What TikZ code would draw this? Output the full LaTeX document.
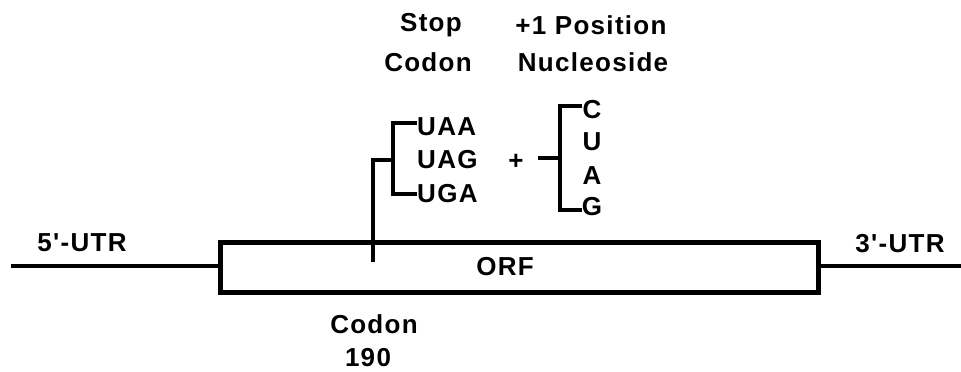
\documentclass[tikz,border=0pt]{standalone}
\usepackage{fontspec}
\setmainfont{Liberation Sans}[Ligatures=TeXOff, LetterSpace=5]
\begin{document}
\begin{tikzpicture}[x=1pt,y=-1pt,
  lab/.style={inner sep=0pt, font=\fontsize{26}{30}\selectfont\bfseries},
  seq/.style={lab, anchor=west},
  nuc/.style={lab},
  wire/.style={line width=4pt, line cap=butt},
  thick box/.style={draw, line width=5pt, inner sep=0pt, minimum width=598pt, minimum height=50pt}]
\useasboundingbox (0,0) rectangle (961,372);
% ORF box
\node[thick box] (orf) at (519,267) {};
\node[lab] (orflab) at (505,267) {ORF};
% UTR lines
\coordinate (l5) at (11,266);
\coordinate (r3) at (961,266);
\draw[wire] (l5) -- (l5 -| orf.west);
\draw[wire] (orf.east |- r3) -- (r3);
\node[lab] (utr5) at (82,243) {5'-UTR};
\node[lab] (utr3) at (900,244) {3'-UTR};
% codon 190 label
\node[lab] (codb) at (374,324) {Codon};
\node[lab] (n190) at (368,358) {190};
% header labels
\node[lab] (stop) at (431,25) {Stop};
\node[lab] (stopc) at (428,62) {Codon};
\node[lab] (pos) at (591,25) {+1 Position};
\node[lab] (nucl) at (593,62) {Nucleoside};
% stop codons
\node[seq] (uaa) at (417,127) {UAA};
\node[seq] (uag) at (417,160) {UAG};
\node[seq] (uga) at (417,194) {UGA};
\node[lab] (plus) at (516,162) {+};
% nucleosides
\node[nuc] (c) at (592,110) {C};
\node[nuc] (u) at (592,142) {U};
\node[nuc] (a) at (592,176) {A};
\node[nuc] (g) at (592,207) {G};
% codon bracket and stem
\coordinate (tick) at (373,262);
\coordinate (stem) at (373,160);
\coordinate (bt) at (393,123);
\coordinate (bb) at (393,194);
\coordinate (bm) at (393,160);
\draw[wire] (tick) -- (stem) -- (bm);
\draw[wire] (uaa.west |- bt) -- (bt) -- (bb) -- (uga.west |- bb);
% nucleoside bracket
\coordinate (nt) at (560,106);
\coordinate (nb) at (560,210);
\coordinate (nm) at (560,158);
\coordinate (stub) at (538,158);
\draw[wire] (stub) -- (nm);
\draw[wire] (c.west |- nt) -- (nt) -- (nb) -- (g.west |- nb);
\end{tikzpicture}
\end{document}
